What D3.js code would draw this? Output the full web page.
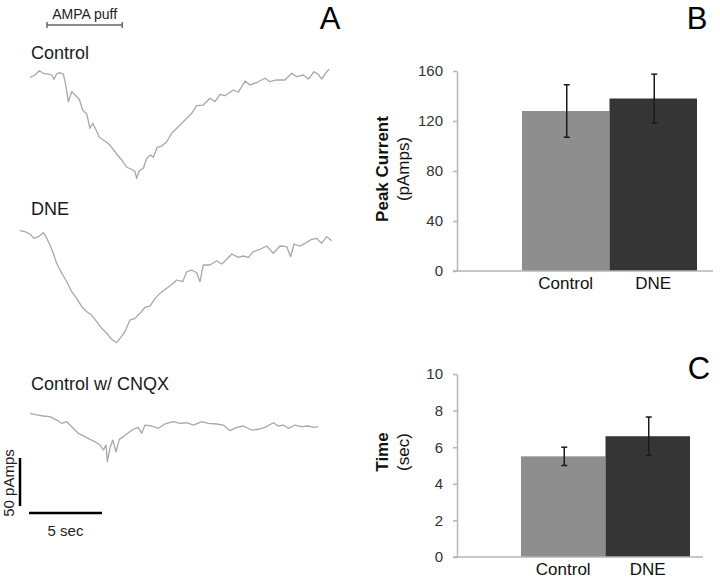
<!DOCTYPE html>
<html lang="en">
    <head>
        <meta charset="utf-8">
        <title>AMPA currents</title>
        <script type="text/javascript" src="https://cdn.jsdelivr.net/npm/d3@7/dist/d3.min.js"></script>
        <style type="text/css">
        body {
            margin: 0;
            background: white;
        }
        svg text {
            font-family: "Liberation Sans", Arial, sans-serif;
        }
        .trace {
            fill: none;
            stroke: #a8a8a8;
            stroke-width: 1.3;
            stroke-linejoin: round;
        }
        .axis path,
        .axis line {
            fill: none;
            stroke: #b5b5b5;
            stroke-width: 1.5;
        }
        .axis text {
            font-size: 15px;
            fill: #333;
        }
        .cat text {
            font-size: 17px;
            fill: #111;
        }
        .err {
            stroke: #1a1a1a;
            stroke-width: 1.5;
        }
        </style>
    </head>
    <body>
        <script>
                var w = 720;
                var h = 578;

                // traces: [time (s), current (pA)]
                var controlTrace = [[0.68,-2.4],[1.03,0],[1.32,4.5],[1.60,1.8],[1.94,1.0],[2.17,0],[2.33,-4.5],[2.51,1.0],[2.69,2.4],[2.97,1.0],
                  [3.13,-10.4],[3.31,-27.8],[3.54,-17.4],[3.77,-20.8],[4.06,-25.3],[4.29,-36.5],[4.57,-40.6],[4.79,-55.5],[4.98,-50.3],[5.21,-57.3],
                  [5.43,-64.9],[5.71,-67.7],[5.98,-70.5],[6.28,-75.3],[6.62,-82.3],[6.97,-88.5],[7.31,-96.1],[7.65,-98.2],[7.88,-100.7],[7.99,-107.6],
                  [8.17,-99.7],[8.45,-97.2],[8.68,-86.8],[8.95,-83.3],[9.13,-85.7],[9.40,-75.3],[9.71,-74.0],[10.05,-69.5],[10.39,-60.7],[10.84,-53.9],
                  [11.42,-45.1],[11.76,-39.9],[12.10,-32.0],[12.55,-31.3],[13.01,-24.3],[13.36,-27.8],[13.70,-20.1],[14.04,-21.6],[14.61,-15.6],[14.95,-18.0],
                  [15.41,-6.3],[15.75,-10.4],[16.25,-7.6],[16.78,-3.4],[17.12,-7.0],[17.58,-5.2],[18.15,-5.2],[18.61,1.8],[18.95,-1.8],[19.40,0],
                  [19.75,-4.2],[20.14,3.4],[20.43,0.7],[20.66,-4.2],[21.01,3.4],[21.18,5.9]];

                var dneTrace = [[0,1.4],[0.34,0.3],[0.68,-2.1],[0.96,-6.6],[1.25,-4.9],[1.60,-0.7],[1.78,-4.9],[2.05,-13.5],[2.28,-22.2],[2.51,-32.6],
                  [2.86,-43.0],[3.20,-51.8],[3.54,-62.2],[3.88,-69.1],[4.23,-77.8],[4.57,-83.0],[4.91,-86.5],[5.25,-93.4],[5.60,-100.3],[5.94,-105.5],
                  [6.28,-111.8],[6.62,-115.3],[6.85,-110.7],[7.19,-103.9],[7.53,-91.7],[7.88,-89.9],[8.22,-84.7],[8.56,-78.4],[8.90,-77.1],[9.25,-69.1],
                  [9.59,-63.9],[10.05,-58.6],[10.50,-53.4],[10.73,-50.0],[11.14,-51.8],[11.42,-41.4],[11.76,-39.6],[12.10,-42.4],[12.33,-51.8],[12.55,-34.4],
                  [13.01,-34.4],[13.47,-29.9],[13.82,-33.3],[14.16,-28.4],[14.50,-22.9],[14.95,-26.4],[15.29,-25.0],[15.64,-26.4],[15.98,-20.5],[16.44,-18.0],
                  [16.90,-14.6],[17.35,-22.2],[17.81,-14.6],[18.27,-15.3],[18.54,-25.7],[18.77,-12.5],[19.18,-14.6],[19.52,-11.8],[19.98,-7.6],[20.32,-6.6],
                  [20.66,-11.8],[21.01,-4.9],[21.35,-9.1]];

                var cnqxTrace = [[0.68,0.7],[1.14,-1.0],[1.60,-2.1],[2.05,-2.8],[2.51,-6.3],[2.86,-9.7],[3.20,-8.0],[3.54,-13.2],[3.99,-20.1],[4.45,-23.6],
                  [4.79,-26.4],[5.14,-28.9],[5.48,-32.3],[5.71,-37.5],[5.89,-32.3],[5.98,-49.7],[6.16,-35.7],[6.35,-27.1],[6.58,-39.3],[6.80,-26.4],
                  [7.08,-23.6],[7.42,-19.5],[7.76,-15.9],[8.10,-13.9],[8.34,-20.1],[8.56,-11.5],[9.02,-12.5],[9.47,-14.9],[9.93,-10.4],[10.50,-8.0],
                  [10.96,-9.7],[11.42,-9.1],[11.87,-11.5],[12.45,-8.0],[12.90,-9.7],[13.47,-10.4],[13.92,-11.5],[14.38,-17.4],[14.84,-13.9],[15.29,-12.5],
                  [15.87,-16.7],[16.32,-15.9],[16.78,-13.9],[17.35,-9.1],[17.69,-12.5],[18.03,-11.5],[18.38,-14.9],[18.84,-11.5],[19.29,-13.2],[19.75,-12.5],
                  [20.09,-13.9],[20.43,-13.2]];

                var traceNames = ["Control", "DNE", "Control w/ CNQX"];
                var puff = [1.85, 7.0];          // AMPA puff, s
                var scaleBarTime = 5;            // s
                var scaleBarCurrent = 50;        // pA

                // bar charts
                var groups = ["Control", "DNE"];
                var peakCurrent = [128, 138];
                var peakCurrentErr = [21, 19.5];
                var peakTicks = [0, 40, 80, 120, 160];
                var timeToPeak = [5.5, 6.6];
                var timeToPeakErr = [0.5, 1.05];
                var timeTicks = [0, 2, 4, 6, 8, 10];
                var barColors = ["#8e8e8e", "#353535"];

                var svg = d3.select("body")
                  .append("svg")
                  .attr("width", w)
                  .attr("height", h);

                // ---------- panel A ----------
                var xTime = d3.scaleLinear().domain([0, 5]).range([20, 93]);
                var pxPerPA = 48 / 50;
                var baselines = [75, 232, 414];
                var traces = [controlTrace, dneTrace, cnqxTrace];
                var labelY = [59, 215, 390];

                traces.forEach(function(tr, i) {
                  var yI = d3.scaleLinear().domain([0, -50]).range([baselines[i], baselines[i] + 50 * pxPerPA]);
                  var line = d3.line()
                    .x(function(d) { return xTime(d[0]); })
                    .y(function(d) { return yI(d[1]); });
                  svg.append("path")
                    .datum(tr)
                    .attr("class", "trace")
                    .attr("d", line);
                  svg.append("text")
                    .text(traceNames[i])
                    .attr("x", 31)
                    .attr("y", labelY[i])
                    .style("font-size", "18px")
                    .attr("fill", "#1a1a1a");
                });

                // puff marker
                var puffG = svg.append("g").attr("stroke", "#666").attr("stroke-width", 1.5);
                puffG.append("line")
                  .attr("x1", xTime(puff[0])).attr("x2", xTime(puff[1]))
                  .attr("y1", 25).attr("y2", 25);
                puff.forEach(function(p) {
                  puffG.append("line")
                    .attr("x1", xTime(p)).attr("x2", xTime(p))
                    .attr("y1", 22).attr("y2", 28);
                });
                svg.append("text")
                  .text("AMPA puff")
                  .attr("x", (xTime(puff[0]) + xTime(puff[1])) / 2)
                  .attr("y", 19)
                  .attr("text-anchor", "middle")
                  .style("font-size", "14px")
                  .attr("fill", "#222");

                // scale bars
                var sbX0 = 29, sbY = 513;
                svg.append("line")
                  .attr("x1", sbX0).attr("x2", sbX0 + xTime(scaleBarTime) - xTime(0))
                  .attr("y1", sbY).attr("y2", sbY)
                  .attr("stroke", "#000").attr("stroke-width", 2.5);
                svg.append("line")
                  .attr("x1", 20).attr("x2", 20)
                  .attr("y1", 506 - scaleBarCurrent * pxPerPA).attr("y2", 506)
                  .attr("stroke", "#000").attr("stroke-width", 2.5);
                svg.append("text")
                  .text(scaleBarTime + " sec")
                  .attr("x", sbX0 + (xTime(scaleBarTime) - xTime(0)) / 2)
                  .attr("y", 536)
                  .attr("text-anchor", "middle")
                  .style("font-size", "15px")
                  .attr("fill", "#222");
                svg.append("text")
                  .text(scaleBarCurrent + " pAmps")
                  .attr("transform", "translate(14,483) rotate(-90)")
                  .attr("text-anchor", "middle")
                  .style("font-size", "15px")
                  .attr("fill", "#222");

                // panel letters
                var letters = [["A", 330, 29], ["B", 697, 29], ["C", 699, 379]];
                letters.forEach(function(l) {
                  svg.append("text")
                    .text(l[0])
                    .attr("x", l[1])
                    .attr("y", l[2])
                    .attr("text-anchor", "middle")
                    .style("font-size", "31px")
                    .attr("fill", "#000");
                });

                // ---------- bar charts ----------
                function barChart(cfg) {
                  var y = d3.scaleLinear().domain(cfg.domain).range([cfg.y0, cfg.y1]);
                  var x = d3.scaleBand().domain(groups).range(cfg.xr).padding(0);
                  var g = svg.append("g");

                  g.selectAll(".bar")
                    .data(cfg.values)
                    .enter().append("rect")
                    .attr("x", function(d, i) { return x(groups[i]); })
                    .attr("y", function(d) { return y(d); })
                    .attr("width", x.bandwidth())
                    .attr("height", function(d) { return y(0) - y(d); })
                    .attr("fill", function(d, i) { return barColors[i]; });

                  g.append("g")
                    .attr("class", "axis")
                    .attr("transform", "translate(" + cfg.ax + ",0)")
                    .call(d3.axisLeft(y).tickValues(cfg.ticks).tickSize(4).tickSizeOuter(0).tickPadding(10));

                  g.append("line")
                    .attr("x1", cfg.ax - 4).attr("x2", cfg.axEnd)
                    .attr("y1", y(0)).attr("y2", y(0))
                    .attr("stroke", "#b5b5b5").attr("stroke-width", 1.5);

                  var cat = g.append("g")
                    .attr("class", "cat")
                    .attr("transform", "translate(0," + y(0) + ")")
                    .call(d3.axisBottom(x).tickSize(0).tickPadding(6));
                  cat.select(".domain").remove();

                  // error bars
                  var eb = g.selectAll(".err")
                    .data(cfg.values)
                    .enter().append("g")
                    .attr("class", "err");
                  eb.append("line")
                    .attr("x1", function(d, i) { return x(groups[i]) + x.bandwidth() / 2 + 1; })
                    .attr("x2", function(d, i) { return x(groups[i]) + x.bandwidth() / 2 + 1; })
                    .attr("y1", function(d, i) { return y(d + cfg.err[i]); })
                    .attr("y2", function(d, i) { return y(d - cfg.err[i]); });
                  [1, -1].forEach(function(s) {
                    eb.append("line")
                      .attr("x1", function(d, i) { return x(groups[i]) + x.bandwidth() / 2 - 2; })
                      .attr("x2", function(d, i) { return x(groups[i]) + x.bandwidth() / 2 + 4; })
                      .attr("y1", function(d, i) { return y(d + s * cfg.err[i]); })
                      .attr("y2", function(d, i) { return y(d + s * cfg.err[i]); });
                  });

                  var lab = g.append("text")
                    .attr("transform", "translate(0," + cfg.labelY + ") rotate(-90)")
                    .attr("text-anchor", "middle")
                    .style("font-size", "17px")
                    .attr("fill", "#111");
                  lab.append("tspan")
                    .text(cfg.title)
                    .attr("x", 0).attr("y", 388)
                    .style("font-weight", "bold");
                  lab.append("tspan")
                    .text(cfg.unit)
                    .attr("x", 0).attr("y", 409);
                }

                barChart({
                  domain: [0, 160], y0: 271, y1: 71, xr: [522, 697], ax: 457, axEnd: 713,
                  values: peakCurrent, err: peakCurrentErr, ticks: peakTicks,
                  title: "Peak Current", unit: "(pAmps)", labelY: 169
                });

                barChart({
                  domain: [0, 10], y0: 557, y1: 374, xr: [521, 690], ax: 457, axEnd: 703,
                  values: timeToPeak, err: timeToPeakErr, ticks: timeTicks,
                  title: "Time", unit: "(sec)", labelY: 452
                });
            </script>
    </body>
</html>
